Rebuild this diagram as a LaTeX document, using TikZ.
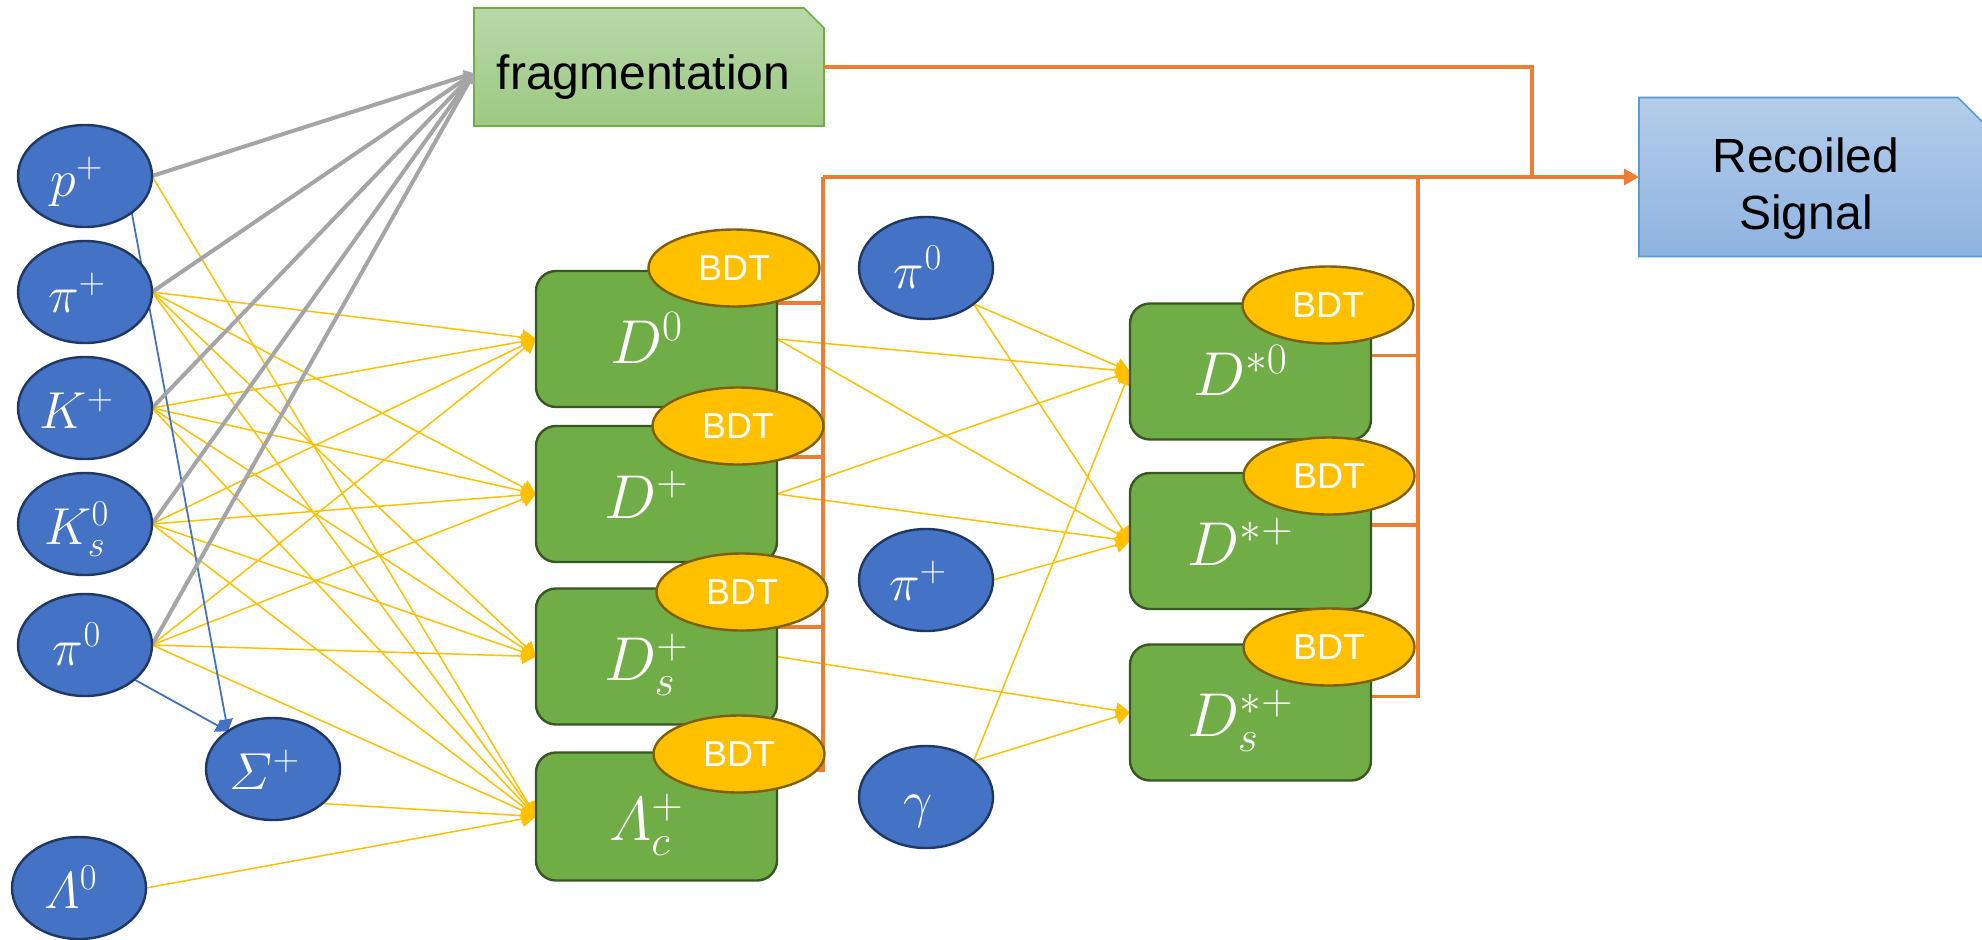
\RequirePackage{fix-cm}
\documentclass[tikz,border=0pt]{standalone}
\usepackage{amsmath}
\usepackage{fontspec}
\newfontfamily\arialfont{Liberation Sans}
\usetikzlibrary{shapes.geometric, arrows.meta, backgrounds}

\definecolor{pblue}{HTML}{4472C4}
\definecolor{pborder}{HTML}{1F3864}
\definecolor{dgreen}{HTML}{70AD47}
\definecolor{dborder}{HTML}{385723}
\definecolor{bdtfill}{HTML}{FFC000}
\definecolor{bdtborder}{HTML}{7F6000}
\definecolor{feedyellow}{HTML}{FFC000}
\definecolor{fraggrey}{HTML}{A5A5A5}
\definecolor{busorange}{HTML}{ED7D31}
\definecolor{fragtop}{HTML}{B7D8A9}
\definecolor{fragbot}{HTML}{9DC983}
\definecolor{fragborder}{HTML}{70AD47}
\definecolor{sigtop}{HTML}{B4CDEA}
\definecolor{sigbot}{HTML}{8EB3E1}
\definecolor{sigborder}{HTML}{5B9BD5}

\tikzset{
  part/.style={ellipse, draw=pborder, line width=1.2pt, fill=pblue,
    minimum width=67pt, minimum height=51pt, inner sep=0pt, outer sep=0pt,
    text=white, font=\fontsize{26}{30}\selectfont,
    text height=20pt, text depth=0pt,
    execute at end node={\hspace*{8pt}}},
  dbox/.style={rectangle, rounded corners=10pt, draw=dborder, line width=1.2pt,
    fill=dgreen, minimum width=120.5pt, minimum height=68pt, inner sep=0pt,
    outer sep=0pt, text=white, font=\fontsize{31}{36}\selectfont,
    text height=24pt, text depth=0pt,
    execute at end node={\hspace*{10pt}}},
  bdt/.style={ellipse, draw=bdtborder, line width=1.2pt, fill=bdtfill,
    minimum width=85.5pt, minimum height=38.5pt, inner sep=0pt,
    text=white, font=\arialfont\fontsize{18}{20}\selectfont},
  plainbox/.style={rectangle, inner sep=0pt, outer sep=0pt},
  boxtext/.style={inner sep=0pt, text=black, font=\arialfont\fontsize{24}{28.5}\selectfont},
  feed/.style={draw=feedyellow, line width=0.75pt, -{Triangle[length=7pt,width=8pt]}},
  tofrag/.style={draw=fraggrey, line width=2pt, -{Triangle[length=5pt,width=6pt]}},
  decay/.style={draw=pblue, line width=0.9pt, -{Triangle[length=6pt,width=7pt]}},
  bus/.style={draw=busorange, line width=1.7pt},
}

\begin{document}
\begin{tikzpicture}[x=0.5pt, y=-0.5pt]
\useasboundingbox (0,0) rectangle (1982,939);

% final-state particles
\node[part] (p)   at (85,176) {$p^+$};
\node[part] (pip) at (85,292) {$\pi^+$};
\node[part] (Kp)  at (85,408) {$K^+$};
\node[part] (Ks)  at (85,524) {$K_s^0$};
\node[part] (pi0) at (85,645) {$\pi^0$};
\node[part] (Sig) at (273,769) {$\varSigma^+$};
\node[part] (L0)  at (79,888) {$\varLambda^0$};

% charm hadrons
\node[dbox] (D0) at (656.5,339)   {$D^0$};
\node[dbox] (Dp) at (656.5,494)   {$D^+$};
\node[dbox] (Ds) at (656.5,656.5) {$D_s^+$};
\node[dbox, minimum height=64pt] (Lc) at (656.5,816.5) {$\varLambda_c^+$};

\node[bdt] (bD0) at (734,268) {BDT};
\node[bdt] (bDp) at (738,426) {BDT};
\node[bdt] (bDs) at (742,592) {BDT};
\node[bdt] (bLc) at (739,754) {BDT};

% soft particles for the excited states
\node[part] (mpi0) at (926,268) {$\pi^0$};
\node[part] (mpip) at (926,580) {$\pi^+$};
\node[part] (mgam) at (926,797) {$\gamma$};

% excited charm mesons
\node[dbox] (Dst0) at (1250.5,371.5) {$D^{*0}$};
\node[dbox] (Dstp) at (1250.5,541)   {$D^{*+}$};
\node[dbox] (Dsst) at (1250.5,712.5) {$D_s^{*+}$};

\node[bdt] (bDst0) at (1328,305) {BDT};
\node[bdt] (bDstp) at (1329,476) {BDT};
\node[bdt] (bDsst) at (1329,647) {BDT};

% fragmentation and output boxes
\node[plainbox, minimum width=175pt, minimum height=59pt] (frag) at (649,67) {};
\node[boxtext, anchor=base] (fragtxt) at (643.5,89) {fragmentation};
\node[plainbox, minimum width=175.5pt, minimum height=79.5pt] (sigbox) at (1814.5,177) {};
\node[boxtext, align=center] (sigtxt) at (1806,189) {Recoiled\\Signal};

\coordinate (busL) at (823,177);
\coordinate (busR) at (1418,177);
\coordinate (joinT) at (1532,177);

\begin{pgfonlayer}{background}
  \shadedraw[top color=fragtop, bottom color=fragbot, draw=fragborder, line width=0.8pt]
    (frag.south west) -- (frag.north west) -- ([xshift=-10pt]frag.north east)
    -- ([yshift=-10pt]frag.north east) -- (frag.south east) -- cycle;
  \shadedraw[top color=sigtop, bottom color=sigbot, draw=sigborder, line width=0.8pt]
    (sigbox.south west) -- (sigbox.north west) -- ([xshift=-16pt]sigbox.north east)
    -- ([yshift=-16pt]sigbox.north east) -- (sigbox.south east) -- cycle;

  % inputs to the ground-state charm hadrons
  \foreach \s in {pip,Kp,Ks,pi0}{
    \foreach \t in {D0,Dp,Ds,Lc}{
      \draw[feed] (\s.east) -- (\t.west);
    }
  }
  \draw[feed] (p.east) -- (Lc.west);
  \draw[feed] (Sig.-35) -- (Lc.west);
  \draw[feed] (L0.east) -- (Lc.west);

  % inputs to the excited states
  \draw[feed] (D0.east) -- (Dst0.west);
  \draw[feed] (D0.east) -- (Dstp.west);
  \draw[feed] (Dp.east) -- (Dst0.west);
  \draw[feed] (Dp.east) -- (Dstp.west);
  \draw[feed] (Ds.east) -- (Dsst.west);
  \draw[feed] (mpi0.-37) -- (Dst0.west);
  \draw[feed] (mpi0.-37) -- (Dstp.west);
  \draw[feed] (mpip.east) -- (Dstp.west);
  \draw[feed] (mgam.37) -- (Dst0.west);
  \draw[feed] (mgam.37) -- (Dsst.west);

  % Sigma reconstruction
  \draw[decay] (p.-38) -- (Sig.140);
  \draw[decay] (pi0.-35) -- (Sig.140);

  % fragmentation inputs
  \foreach \s in {p,pip,Kp,Ks,pi0}{
    \draw[tofrag] (\s.east) -- ([yshift=-3pt]frag.west);
  }

  % output bus
  \draw[bus] (frag.east) -| (joinT);
  \draw[bus, -{Triangle[length=7.5pt,width=8pt]}] (busL) -- (sigbox.west);
  \draw[bus] (busL) |- ([yshift=23.25pt]Lc.east);
  \draw[bus] ([yshift=18pt]D0.east) -- ++(23pt,0);
  \draw[bus] ([yshift=18.5pt]Dp.east) -- ++(23pt,0);
  \draw[bus] ([yshift=14.75pt]Ds.east) -- ++(23pt,0);
  \draw[bus] (busR) |- ([yshift=8pt]Dsst.east);
  \draw[bus] ([yshift=8pt]Dst0.east) -- ++(23.5pt,0);
  \draw[bus] ([yshift=8pt]Dstp.east) -- ++(23.5pt,0);
\end{pgfonlayer}
\end{tikzpicture}
\end{document}
